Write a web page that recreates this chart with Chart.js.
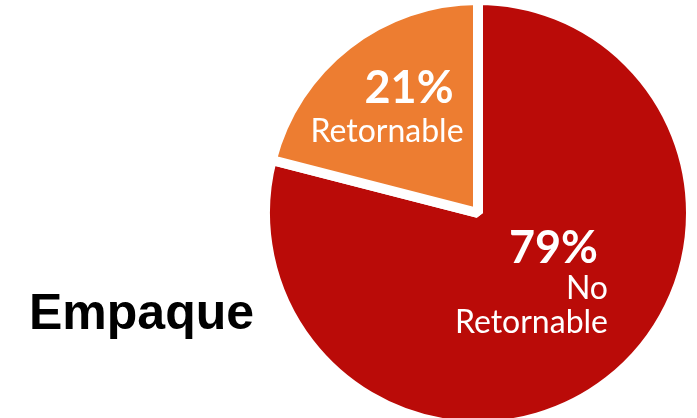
<!DOCTYPE html>
<html>
<head>
<meta charset="utf-8">
<script src="https://cdn.jsdelivr.net/npm/chart.js@4"></script>
<style>
  html, body { margin: 0; padding: 0; background: #fff; overflow: hidden; }
  #wrap { position: relative; width: 697px; height: 418px; }
</style>
</head>
<body>
<div id="wrap"><canvas id="packChart" width="697" height="418"></canvas></div>
<script>
// datos del gráfico
const categories = ['No Retornable', 'Retornable'];
const shares = [79, 21];
const sliceColors = ['#BA0B08', '#ED7D31'];
const chartTitle = 'Empaque';

// etiquetas dentro de cada porción
const labelPlugin = {
    id: 'sliceLabels',
    afterDatasetsDraw(chart) {
        const ctx = chart.ctx;
        ctx.save();
        ctx.fillStyle = '#fff';
        ctx.textBaseline = 'alphabetic';

        // Retornable (naranja)
        ctx.textAlign = 'center';
        ctx.font = 'bold 45px Lato';
        ctx.fillText(shares[1] + '%', 409, 103);
        ctx.font = '32px Lato';
        ctx.fillText(categories[1], 387, 142);

        // No Retornable (rojo)
        ctx.textAlign = 'right';
        ctx.font = 'bold 45px Lato';
        ctx.fillText(shares[0] + '%', 598, 263);
        ctx.font = '32px Lato';
        const words = categories[0].split(' ');
        ctx.fillText(words[0], 608, 299);
        ctx.fillText(words[1], 608, 333);

        // título
        ctx.fillStyle = '#000';
        ctx.textAlign = 'left';
        ctx.font = 'bold 50px "Liberation Sans"';
        ctx.fillText(chartTitle, 29, 329);
        ctx.restore();
    }
};

const ctx = document.getElementById('packChart').getContext('2d');
new Chart(ctx, {
    type: 'pie',
    data: {
        labels: categories,
        datasets: [{
            data: shares,
            backgroundColor: sliceColors,
            borderColor: '#ffffff',
            borderWidth: 10,
            radius: 213
        }]
    },
    options: {
        responsive: false,
        animation: false,
        layout: { padding: { left: 259, top: 8, right: 0, bottom: 0 } },
        plugins: {
            legend: { display: false },
            tooltip: { enabled: false }
        }
    },
    plugins: [labelPlugin]
});
</script>
</body>
</html>
